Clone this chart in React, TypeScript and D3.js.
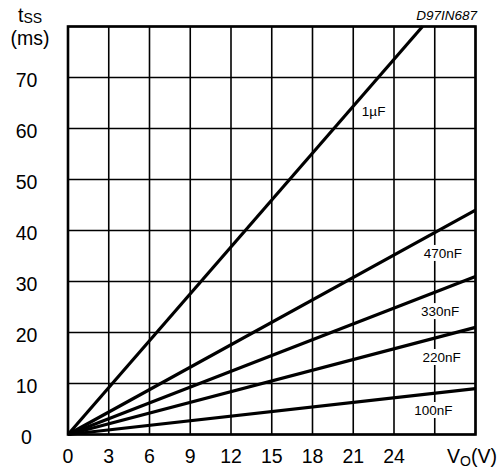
import React from "react";
import * as d3 from "d3";

const xTicks = [0, 3, 6, 9, 12, 15, 18, 21, 24];
const xGrid = [0, 3, 6, 9, 12, 15, 18, 21, 24, 27, 30];
const yTicks = [0, 10, 20, 30, 40, 50, 60, 70];
const yGrid = [0, 10, 20, 30, 40, 50, 60, 70, 80];

const seriesNames = ["1µF", "470nF", "330nF", "220nF", "100nF"];
const seriesEndV = [26.1, 30, 30, 30, 30];
const seriesEndT = [80, 44, 31, 21, 9];
const labelV = [22.5, 27.6, 27.4, 27.5, 26.9];
const labelT = [63.4, 35.6, 24.2, 15.2, 4.8];

const W = 504;
const H = 470;
const left = 68;
const right = 475.5;
const top = 26.5;
const bottom = 434.5;

export default function App() {
  const x = d3.scaleLinear().domain([0, 30]).range([left, right]);
  const y = d3.scaleLinear().domain([0, 80]).range([bottom, top]);
  const line = d3
    .line<[number, number]>()
    .x((d) => x(d[0]))
    .y((d) => y(d[1]));
  const font = "'Liberation Sans', Arial, sans-serif";

  return (
    <svg
      width={W}
      height={H}
      style={{ position: "absolute", left: 0, top: 0, background: "#fff" }}
      fontFamily={font}
    >
      <rect x={0} y={0} width={W} height={H} fill="#fff" />
      {xGrid.map((v) => (
        <line key={"gx" + v} x1={x(v)} x2={x(v)} y1={y(0)} y2={y(80)} stroke="#000" strokeWidth={1.6} />
      ))}
      {yGrid.map((v) => (
        <line key={"gy" + v} x1={x(0)} x2={x(30)} y1={y(v)} y2={y(v)} stroke="#000" strokeWidth={1.6} />
      ))}
      <rect x={x(0)} y={y(80)} width={x(30) - x(0)} height={y(0) - y(80)} fill="none" stroke="#000" strokeWidth={2.6} />
      {seriesNames.map((n, i) => (
        <path
          key={n}
          d={line([
            [0, 0],
            [seriesEndV[i], seriesEndT[i]],
          ]) as string}
          fill="none"
          stroke="#000"
          strokeWidth={3.2}
        />
      ))}
      {seriesNames.map((n, i) => {
        const cx = x(labelV[i]);
        const cy = y(labelT[i]);
        const w = n.length * 7.6;
        return (
          <g key={"l" + n}>
            {i > 0 && <rect x={cx - w / 2} y={cy - 8} width={w} height={16} fill="#fff" />}
            <text x={cx} y={cy + 5} textAnchor="middle" fontSize={13.5} fill="#000">
              {n}
            </text>
          </g>
        );
      })}
      {xTicks.map((v) => (
        <text key={"tx" + v} x={x(v)} y={463} textAnchor="middle" fontSize={19.5} fill="#000">
          {v}
        </text>
      ))}
      {yTicks.map((v) => (
        <text key={"ty" + v} x={26.5} y={y(v) + 9} textAnchor="middle" fontSize={19.5} fill="#000">
          {v}
        </text>
      ))}
      <text x={447} y={463} fontSize={19.5} fill="#000">
        V<tspan fontSize={14} dy={3}>O</tspan>
        <tspan dy={-3}>(V)</tspan>
      </text>
      <text x={18} y={22} fontSize={19.5} fill="#000">
        t<tspan fontSize={14} dy={1}>SS</tspan>
      </text>
      <text x={30} y={45} textAnchor="middle" fontSize={19.5} fill="#000">
        (ms)
      </text>
      <text x={477} y={20} textAnchor="end" fontSize={13.5} fontStyle="italic" fill="#000">
        D97IN687
      </text>
    </svg>
  );
}
